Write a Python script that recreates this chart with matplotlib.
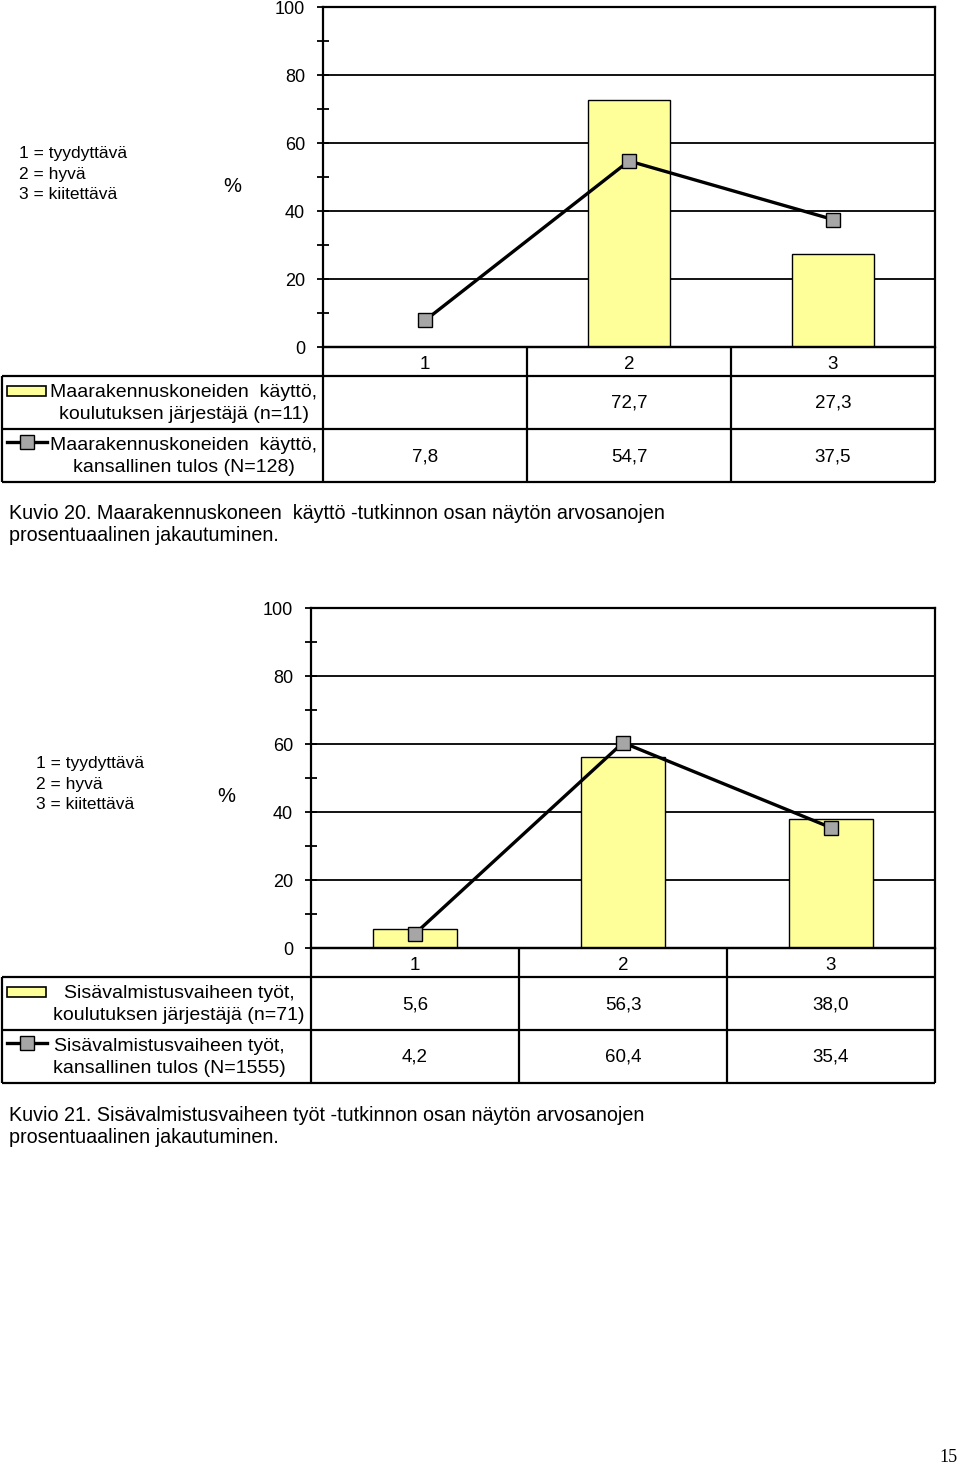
import numpy as np
import matplotlib
matplotlib.use("Agg")
import matplotlib.pyplot as plt
from matplotlib.patches import Rectangle

# --- data ---
categories = ["1", "2", "3"]
grade_notes = ["1 = tyydyttävä", "2 = hyvä", "3 = kiitettävä"]

# Kuvio 20
k20_bar = [np.nan, 72.7, 27.3]
k20_line = [7.8, 54.7, 37.5]
k20_bar_label = "Maarakennuskoneiden  käyttö,\nkoulutuksen järjestäjä (n=11)"
k20_line_label = "Maarakennuskoneiden  käyttö,\nkansallinen tulos (N=128)"
k20_caption = ("Kuvio 20. Maarakennuskoneen  käyttö -tutkinnon osan näytön arvosanojen\n"
               "prosentuaalinen jakautuminen.")

# Kuvio 21
k21_bar = [5.6, 56.3, 38.0]
k21_line = [4.2, 60.4, 35.4]
k21_bar_label = "Sisävalmistusvaiheen työt,\nkoulutuksen järjestäjä (n=71)"
k21_line_label = "Sisävalmistusvaiheen työt,\nkansallinen tulos (N=1555)"
k21_caption = ("Kuvio 21. Sisävalmistusvaiheen työt -tutkinnon osan näytön arvosanojen\n"
               "prosentuaalinen jakautuminen.")

W, H = 960, 1466
BAR_COLOR = "#ffff99"
MARK_COLOR = "#a6a6a6"
SANS = ["Liberation Sans", "DejaVu Sans"]
NARROW = ["Liberation Sans Narrow", "Liberation Sans", "DejaVu Sans"]

plt.rcParams["font.family"] = SANS

fig = plt.figure(figsize=(W / 100, H / 100), dpi=100)
ov = fig.add_axes([0, 0, 1, 1], zorder=5)
ov.set_xlim(0, W)
ov.set_ylim(H, 0)
ov.axis("off")


def fmt(v):
    return "" if np.isnan(v) else f"{v:.1f}".replace(".", ",")


def hline(x0, x1, y, lw=1.6):
    ov.plot([x0, x1], [y, y], color="black", lw=lw, solid_capstyle="butt")


def vline(x, y0, y1, lw=1.6):
    ov.plot([x, x], [y0, y1], color="black", lw=lw, solid_capstyle="butt")


def chart(left, top, bars, line, bar_label, line_label, caption,
          note_x, note_y, pct_x, label_cx, cap_y):
    right, bottom = 935, top + 340
    ax = fig.add_axes([left / W, 1 - bottom / H, (right - left) / W, (bottom - top) / H])
    x = np.arange(len(categories))
    ax.bar(x, np.nan_to_num(bars), width=0.4, color=BAR_COLOR,
           edgecolor="black", linewidth=1.0, zorder=2)
    ax.plot(x, line, color="black", lw=2.4, marker="s", markersize=10,
            markerfacecolor=MARK_COLOR, markeredgecolor="black",
            markeredgewidth=1.0, zorder=3)
    ax.set_xlim(-0.5, len(categories) - 0.5)
    ax.set_ylim(0, 100)
    ax.set_yticks(np.arange(0, 101, 20))
    ax.set_yticks(np.arange(10, 100, 20), minor=True)
    ax.set_xticks([])
    ax.yaxis.grid(True, color="black", lw=1.3, zorder=1)
    ax.set_axisbelow(True)
    ax.tick_params(axis="y", which="both", direction="inout", length=8,
                   width=1.3, labelsize=13, pad=9)
    for s in ax.spines.values():
        s.set_linewidth(1.6)

    # data table
    r1, r2, r3, r4 = bottom, bottom + 29, bottom + 82, bottom + 135
    colw = (right - left) / len(categories)
    hline(left, right, r1)
    for y in (r2, r3, r4):
        hline(2, right, y)
    vline(2, r2, r4)
    for i in range(len(categories) + 1):
        vline(left + i * colw, r1, r4)
    for i, c in enumerate(categories):
        cx = left + (i + 0.5) * colw
        ov.text(cx, (r1 + r2) / 2 + 3, c, ha="center", va="center", fontsize=13.5)
        ov.text(cx, (r2 + r3) / 2 + 1, fmt(bars[i]), ha="center", va="center", fontsize=13.5)
        ov.text(cx, (r3 + r4) / 2 + 1, fmt(line[i]), ha="center", va="center", fontsize=13.5)

    # legend keys
    ov.add_patch(Rectangle((7, r2 + 10), 39, 10, facecolor=BAR_COLOR,
                           edgecolor="black", lw=1.2))
    ov.plot([7, 47], [r3 + 13, r3 + 13], color="black", lw=2.4)
    ov.plot([27], [r3 + 13], marker="s", markersize=10, markerfacecolor=MARK_COLOR,
            markeredgecolor="black", markeredgewidth=1.0, color="black")
    ov.text(label_cx[0], (r2 + r3) / 2 + 1, bar_label, ha="center", va="center",
            fontsize=14, linespacing=1.38)
    ov.text(label_cx[1], (r3 + r4) / 2 + 1, line_label, ha="center", va="center",
            fontsize=14, linespacing=1.38)

    # grade notes and % label
    ov.text(note_x, note_y, "\n".join(grade_notes), ha="left", va="center",
            fontsize=12.5, family=NARROW, linespacing=1.45)
    ov.text(pct_x, note_y + 13, "%", ha="center", va="center", fontsize=14.5)

    # caption
    ov.text(9, cap_y, caption, ha="left", va="top", fontsize=14.2,
            family=NARROW, linespacing=1.22)


chart(323, 7, k20_bar, k20_line, k20_bar_label, k20_line_label, k20_caption,
      note_x=19, note_y=174, pct_x=232, label_cx=(184, 184), cap_y=504)
chart(311, 608, k21_bar, k21_line, k21_bar_label, k21_line_label, k21_caption,
      note_x=36, note_y=784, pct_x=226, label_cx=(179, 169), cap_y=1106)

ov.text(948, 1458, "15", ha="center", va="center", fontsize=13,
        family=["Liberation Serif", "DejaVu Serif"])

fig.savefig("out.png", dpi=100)
